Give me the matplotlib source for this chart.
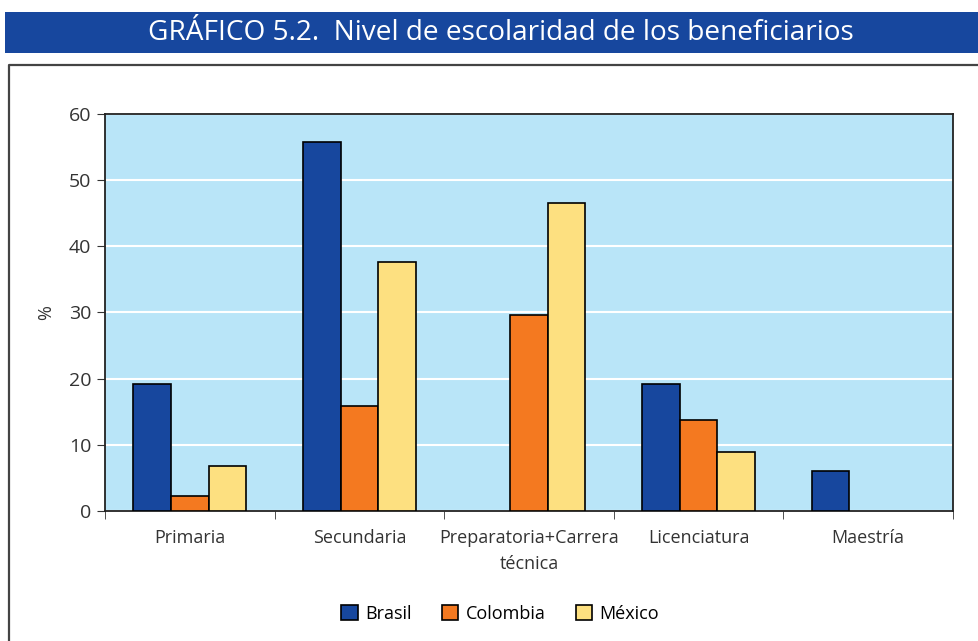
import numpy as np
import matplotlib.pyplot as plt
from matplotlib.patches import Rectangle
from matplotlib.lines import Line2D

plt.rcParams['font.family'] = ['Open Sans', 'DejaVu Sans']

categories = ["Primaria", "Secundaria", "Preparatoria+Carrera\ntécnica", "Licenciatura", "Maestría"]
brasil = [19.2, 55.8, 0.0, 19.2, 6.0]
colombia = [2.2, 15.9, 29.6, 13.8, 0.0]
mexico = [6.8, 37.6, 46.5, 8.9, 0.0]
series = ["Brasil", "Colombia", "México"]
colors = ["#17479E", "#F47920", "#FDE080"]

fig = plt.figure(figsize=(9.79, 6.41), dpi=100)

# title banner
fig.patches.append(Rectangle((0.005, 0.917), 0.995, 0.064, transform=fig.transFigure,
                             facecolor="#17479E", edgecolor="none"))
fig.text(0.512, 0.948, "GRÁFICO 5.2.  Nivel de escolaridad de los beneficiarios",
         color="white", fontsize=20.2, ha="center", va="center")

# frame around the chart
fig.lines.append(Line2D([0.0095, 0.0095, 1.0], [0.0, 0.8985, 0.8985], transform=fig.transFigure,
                        color="#444444", linewidth=1.6))

ax = fig.add_axes([0.1073, 0.2028, 0.8661, 0.6194])
ax.set_facecolor("#B9E5F8")

x = np.arange(len(categories))
w = 0.222
for i, (vals, name, c) in enumerate(zip([brasil, colombia, mexico], series, colors)):
    pos = x + (i - 1) * w
    v = np.array(vals)
    mask = v > 0
    ax.bar(pos[mask], v[mask], width=w, color=c, edgecolor="black", linewidth=1.2,
           label=name, zorder=3)

ax.set_ylim(0, 60)
ax.set_xlim(-0.5, len(categories) - 0.5)
ax.set_yticks(range(0, 61, 10))
ax.yaxis.grid(True, color="white", linewidth=1.5, zorder=1)
ax.set_axisbelow(True)

ax.set_xticks(x)
ax.set_xticklabels(categories, fontsize=13, color="#333333", linespacing=1.55)
ax.tick_params(axis="x", length=0, pad=13)
ax.set_xticks(np.arange(-0.5, len(categories)), minor=True)
ax.tick_params(axis="x", which="minor", length=6, color="#333333")
ax.tick_params(axis="y", labelsize=14, colors="#333333", length=6, pad=4)
ax.set_ylabel("%", fontsize=13, color="#333333", labelpad=10)

for side in ["left", "bottom", "top", "right"]:
    ax.spines[side].set_color("#222222")
    ax.spines[side].set_linewidth(1.3)

handles = [Rectangle((0, 0), 1, 1, facecolor=c, edgecolor="black", linewidth=1.2) for c in colors]
fig.legend(handles, series, loc="center", bbox_to_anchor=(0.511, 0.042), ncol=3, frameon=False,
           fontsize=13, handlelength=0.9, handleheight=0.9, handletextpad=0.4, columnspacing=1.7)

fig.savefig("out.png", dpi=100)
